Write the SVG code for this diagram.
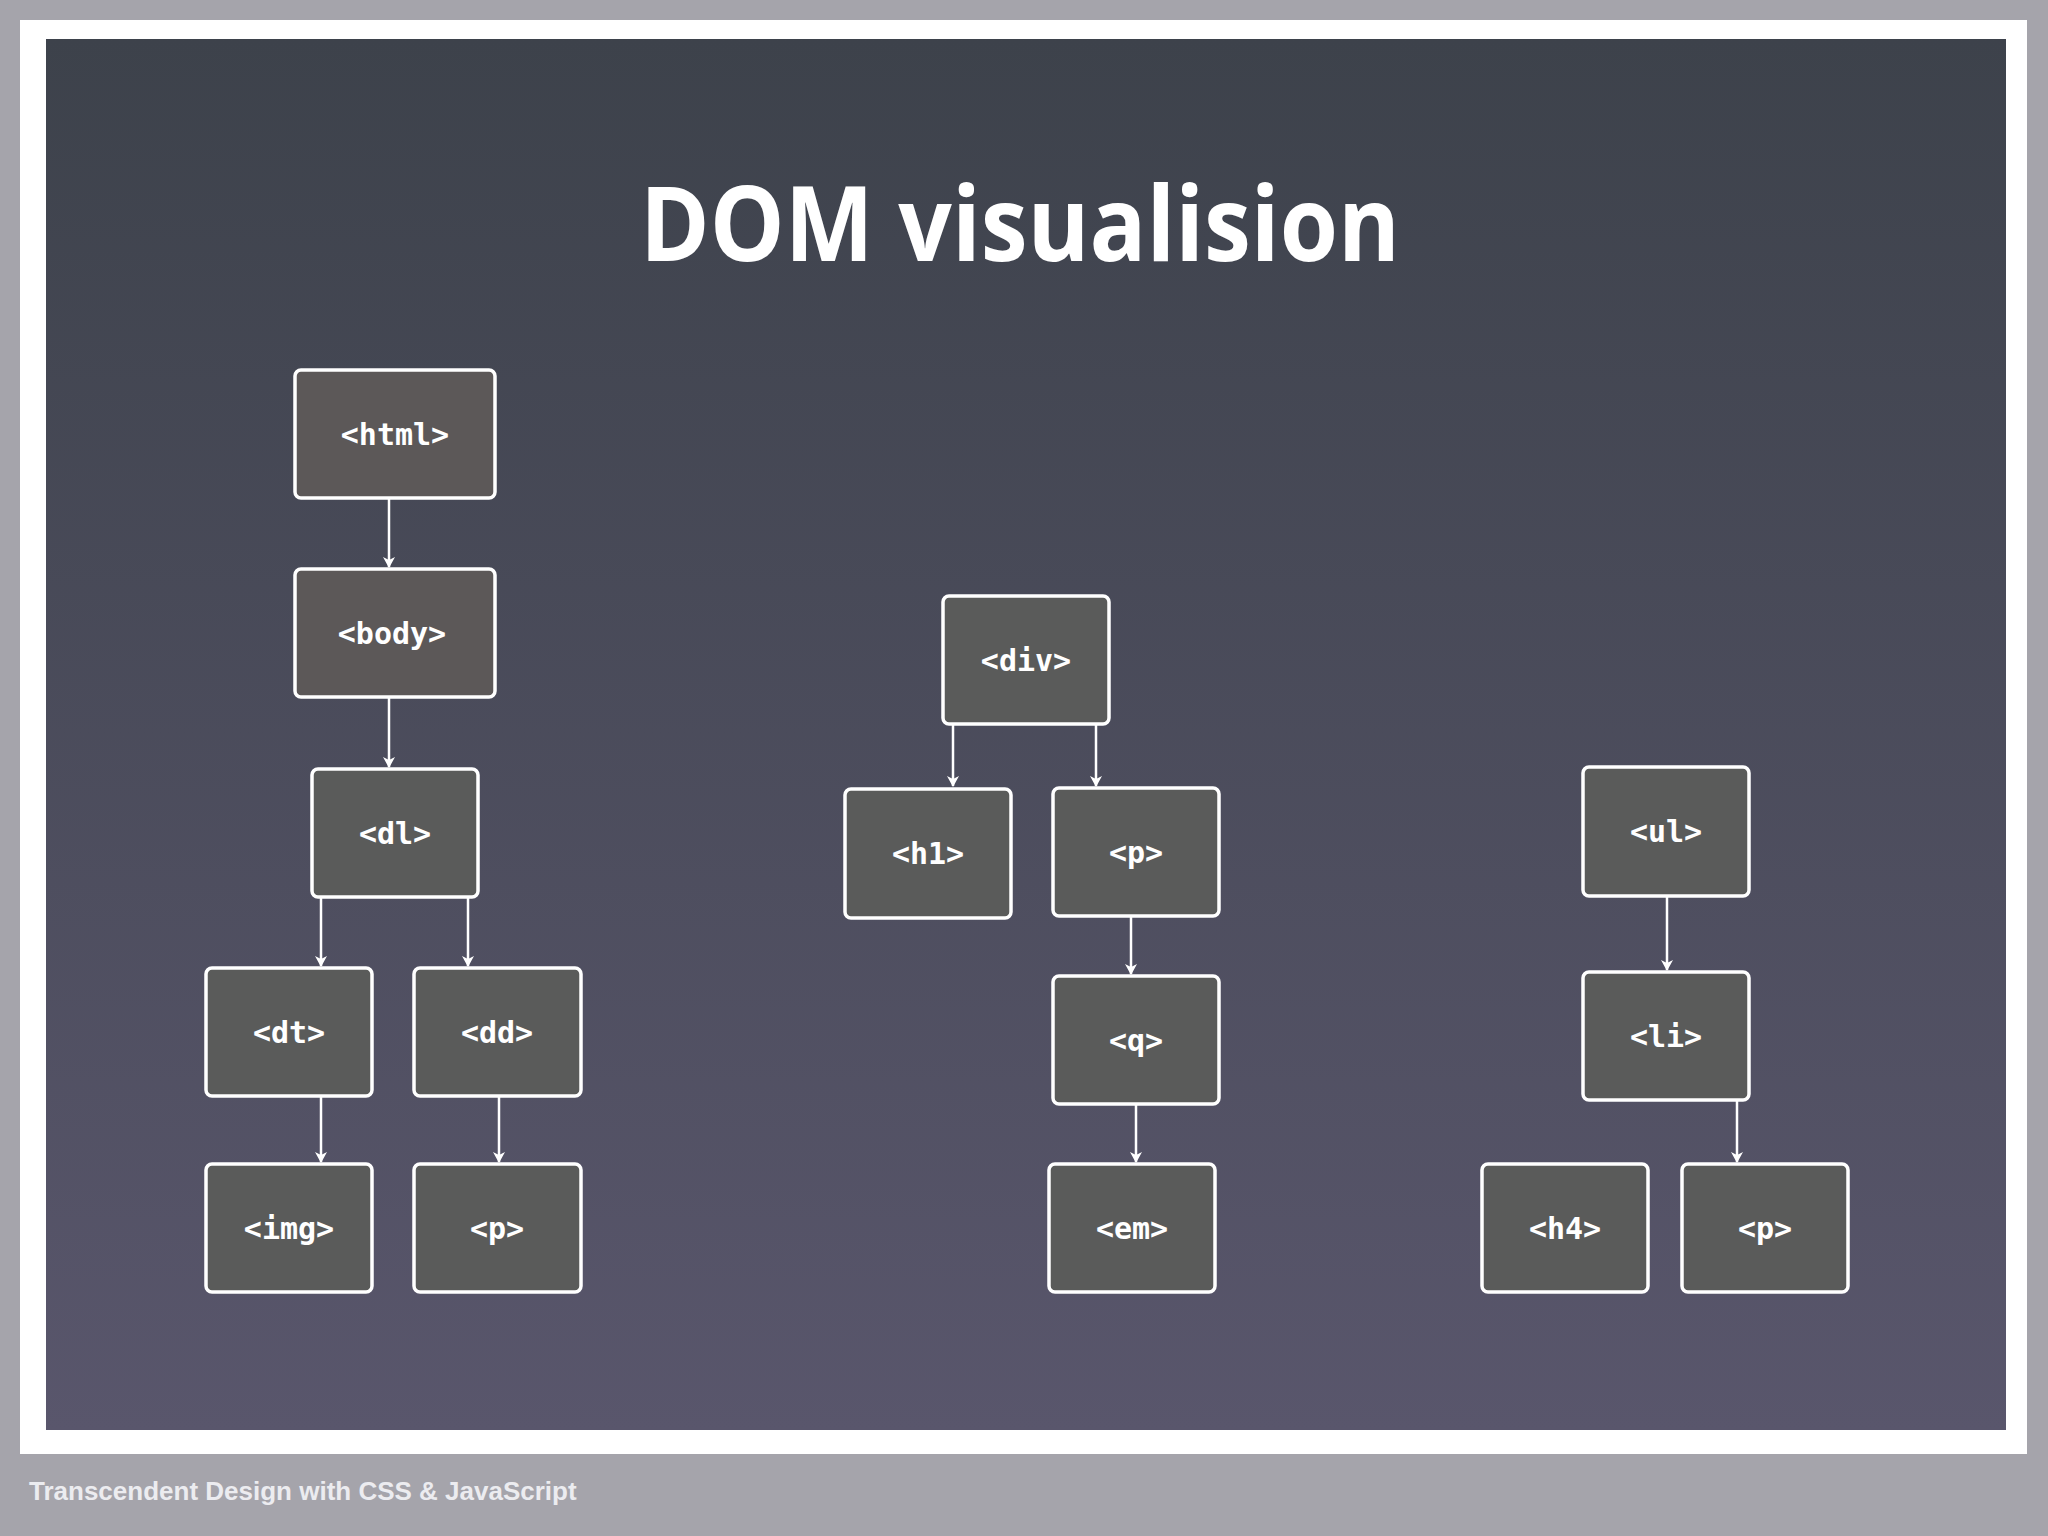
<svg xmlns="http://www.w3.org/2000/svg" width="2048" height="1536" viewBox="0 0 2048 1536">
<defs>
<linearGradient id="bg" x1="0" y1="0" x2="0" y2="1"><stop offset="0" stop-color="#3d424b"/><stop offset="1" stop-color="#59566c"/></linearGradient>
<marker id="ah" markerWidth="12" markerHeight="12" refX="10" refY="6" orient="auto" markerUnits="userSpaceOnUse"><path d="M0,0 L11,6 L0,12 L3,6 Z" fill="#fff"/></marker>
<style>
.n rect{fill:#5a5b5a;stroke:#fff;stroke-width:3.5}
.b rect{fill:#5c5858}
.n text{font-family:"DejaVu Sans Mono",monospace;font-weight:bold;font-size:30px;fill:#fff;text-anchor:middle;dominant-baseline:central}
#edges line{stroke:#fff;stroke-width:2.5;marker-end:url(#ah)}
</style>
</defs>
<rect width="2048" height="1536" fill="#a5a4ab"/>
<rect x="20" y="20" width="2007" height="1434" fill="#fff"/>
<rect x="46" y="39" width="1960" height="1391" fill="url(#bg)"/>
<text x="1020" y="261" text-anchor="middle" font-family="Open Sans, sans-serif" font-weight="bold" font-size="104" fill="#fff" textLength="760" lengthAdjust="spacingAndGlyphs">DOM visualision</text>
<text x="29" y="1500" font-family="Liberation Sans, sans-serif" font-weight="bold" font-size="26" fill="#ececf0">Transcendent Design with CSS &amp; JavaScript</text>
<g id="edges">
<line x1="389" y1="498" x2="389" y2="567"/>
<line x1="389" y1="697" x2="389" y2="767"/>
<line x1="321" y1="897" x2="321" y2="966"/>
<line x1="468" y1="897" x2="468" y2="966"/>
<line x1="321" y1="1096" x2="321" y2="1162"/>
<line x1="499" y1="1096" x2="499" y2="1162"/>
<line x1="953" y1="724" x2="953" y2="786"/>
<line x1="1096" y1="724" x2="1096" y2="786"/>
<line x1="1131" y1="916" x2="1131" y2="974"/>
<line x1="1136" y1="1104" x2="1136" y2="1162"/>
<line x1="1667" y1="896" x2="1667" y2="970"/>
<line x1="1737" y1="1100" x2="1737" y2="1162"/>
</g>
<g id="html" class="n b"><rect x="295" y="370" width="200" height="128" rx="6"/><text x="395" y="434">&lt;html&gt;</text></g>
<g id="body" class="n b"><rect x="295" y="569" width="200" height="128" rx="6"/><text x="392" y="633">&lt;body&gt;</text></g>
<g id="dl" class="n"><rect x="312" y="769" width="166" height="128" rx="6"/><text x="395" y="833">&lt;dl&gt;</text></g>
<g id="dt" class="n"><rect x="206" y="968" width="166" height="128" rx="6"/><text x="289" y="1032">&lt;dt&gt;</text></g>
<g id="dd" class="n"><rect x="414" y="968" width="167" height="128" rx="6"/><text x="497" y="1032">&lt;dd&gt;</text></g>
<g id="img" class="n"><rect x="206" y="1164" width="166" height="128" rx="6"/><text x="289" y="1228">&lt;img&gt;</text></g>
<g id="p1" class="n"><rect x="414" y="1164" width="167" height="128" rx="6"/><text x="497" y="1228">&lt;p&gt;</text></g>
<g id="div" class="n"><rect x="943" y="596" width="166" height="128" rx="6"/><text x="1026" y="660">&lt;div&gt;</text></g>
<g id="h1" class="n"><rect x="845" y="789" width="166" height="129" rx="6"/><text x="928" y="853">&lt;h1&gt;</text></g>
<g id="p2" class="n"><rect x="1053" y="788" width="166" height="128" rx="6"/><text x="1136" y="852">&lt;p&gt;</text></g>
<g id="q" class="n"><rect x="1053" y="976" width="166" height="128" rx="6"/><text x="1136" y="1040">&lt;q&gt;</text></g>
<g id="em" class="n"><rect x="1049" y="1164" width="166" height="128" rx="6"/><text x="1132" y="1228">&lt;em&gt;</text></g>
<g id="ul" class="n"><rect x="1583" y="767" width="166" height="129" rx="6"/><text x="1666" y="831">&lt;ul&gt;</text></g>
<g id="li" class="n"><rect x="1583" y="972" width="166" height="128" rx="6"/><text x="1666" y="1036">&lt;li&gt;</text></g>
<g id="h4" class="n"><rect x="1482" y="1164" width="166" height="128" rx="6"/><text x="1565" y="1228">&lt;h4&gt;</text></g>
<g id="p3" class="n"><rect x="1682" y="1164" width="166" height="128" rx="6"/><text x="1765" y="1228">&lt;p&gt;</text></g>
</svg>
